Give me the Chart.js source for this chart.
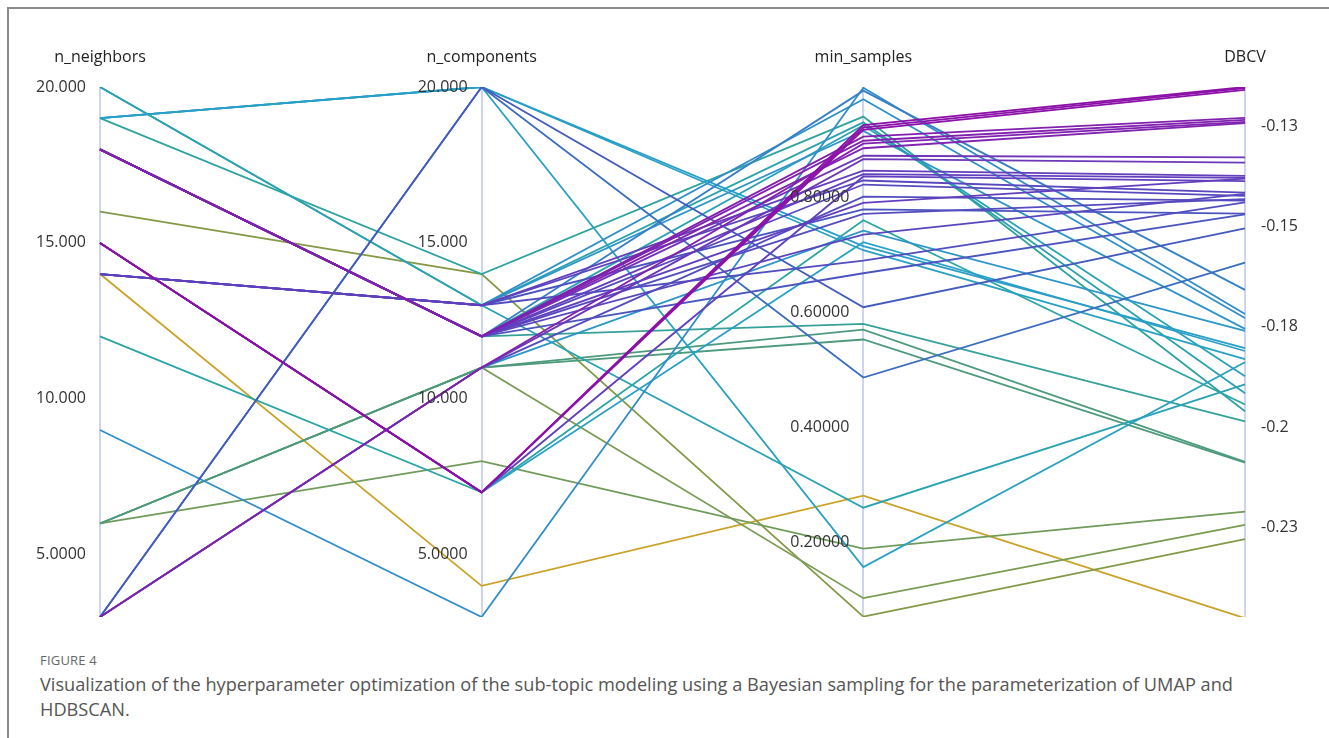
<!DOCTYPE html>
<html>
<head>
<meta charset="utf-8">
<title>Hyperparameter optimization – parallel coordinates</title>
<script src="https://cdn.jsdelivr.net/npm/chart.js@4.4.1/dist/chart.umd.min.js"></script>
<style>
  html, body { margin: 0; padding: 0; background: #ffffff; }
  body { width: 1329px; height: 738px; position: relative; overflow: hidden; font-family: "Open Sans", "Noto Sans", sans-serif; }
  #frame { position: absolute; left: 7px; top: 7px; right: -4px; bottom: -4px; border-top: 2px solid #8c8c8c; border-left: 2px solid #8c8c8c; }
  #wrap { position: absolute; left: 0; top: 0; width: 1329px; height: 640px; }
  #figlabel { position: absolute; left: 40px; top: 651px; font-size: 13px; color: #666666; letter-spacing: 0.2px; white-space: nowrap; }
  #caption { position: absolute; left: 40px; top: 672px; font-size: 17.5px; line-height: 25px; color: #555555; white-space: nowrap; }
</style>
</head>
<body>
<div id="frame"></div>
<div id="wrap"><canvas id="chart" width="1329" height="640"></canvas></div>
<div id="figlabel">FIGURE 4</div>
<div id="caption"><span id="capLine1">Visualization of the hyperparameter optimization of the sub-topic modeling using a Bayesian sampling for the parameterization of UMAP and</span><br><span>HDBSCAN.</span></div>
<script>
// Axis names (one vertical axis per hyperparameter / score)
const axisNames = ['n_neighbors', 'n_components', 'min_samples', 'DBCV'];

// Value range covered by each vertical axis
const axisMin = [3, 3, 0.0713, -0.2472];
const axisMax = [20, 20, 0.9913, -0.1153];

// Tick values and their printed labels, per axis
const nnTicks = [20, 15, 10, 5];
const nnTickLabels = ['20.000', '15.000', '10.000', '5.0000'];
const ncTicks = [20, 15, 10, 5];
const ncTickLabels = ['20.000', '15.000', '10.000', '5.0000'];
const msTicks = [0.8, 0.6, 0.4, 0.2];
const msTickLabels = ['0.80000', '0.60000', '0.40000', '0.20000'];
const dbTicks = [-0.125, -0.15, -0.175, -0.2, -0.225];
const dbTickLabels = ['-0.13', '-0.15', '-0.18', '-0.2', '-0.23'];

// One entry per optimization trial
const nNeighbors  = [15, 15, 15, 18, 18, 3, 18, 18, 3, 14, 18, 15, 14, 18, 3, 18, 14, 18, 18, 14, 18, 3, 3, 18, 9, 14, 14, 18, 20, 19, 19, 19, 19, 20, 12, 18, 6, 6, 6, 6, 16, 14, 15, 3];
const nComponents = [7, 7, 7, 12, 12, 11, 12, 12, 11, 13, 12, 7, 13, 12, 11, 12, 13, 12, 12, 13, 12, 20, 20, 12, 3, 13, 13, 12, 13, 14, 20, 20, 20, 13, 7, 12, 11, 11, 8, 11, 14, 4, 7, 11];
const minSamples  = [0.925, 0.921, 0.917, 0.905, 0.898, 0.893, 0.885, 0.872, 0.866, 0.846, 0.840, 0.836, 0.829, 0.822, 0.801, 0.790, 0.779, 0.771, 0.735, 0.690, 0.668, 0.609, 0.487, 0.985, 0.990, 0.970, 0.915, 0.925, 0.930, 0.940, 0.715, 0.708, 0.158, 0.261, 0.760, 0.580, 0.570, 0.553, 0.190, 0.104, 0.072, 0.282, 0.722, 0.742];
const dbcv        = [-0.1153, -0.1156, -0.1160, -0.1230, -0.1235, -0.1240, -0.1243, -0.1328, -0.1341, -0.1374, -0.1379, -0.1387, -0.1416, -0.1424, -0.1436, -0.1381, -0.1468, -0.1432, -0.1419, -0.1440, -0.1470, -0.1505, -0.1590, -0.1658, -0.1718, -0.1728, -0.1755, -0.1873, -0.1915, -0.1960, -0.1803, -0.1830, -0.1838, -0.1893, -0.1943, -0.1985, -0.2086, -0.2088, -0.2210, -0.2243, -0.2278, -0.2475, -0.1810, -0.1760];

// Colour ramp along the DBCV range (low = gold, high = purple)
const colorStops = [
  [0.00, '#c9a227'], [0.12, '#8e9a3e'], [0.20, '#6f9b5c'], [0.30, '#4a9a80'],
  [0.40, '#2ba4a4'], [0.50, '#28a0c8'], [0.60, '#3486c8'], [0.70, '#3e62bb'],
  [0.75, '#4658bf'], [0.82, '#6040be'], [0.90, '#7a2cb2'], [1.00, '#8c10a8']
];

function hexToRgb(h) {
  return [parseInt(h.slice(1, 3), 16), parseInt(h.slice(3, 5), 16), parseInt(h.slice(5, 7), 16)];
}
function rampColor(t) {
  t = Math.max(0, Math.min(1, t));
  for (let i = 1; i < colorStops.length; i++) {
    const [t1, c1] = colorStops[i];
    const [t0, c0] = colorStops[i - 1];
    if (t <= t1) {
      const f = (t - t0) / (t1 - t0);
      const a = hexToRgb(c0), b = hexToRgb(c1);
      const c = a.map((v, k) => Math.round(v + (b[k] - v) * f));
      return `rgb(${c[0]},${c[1]},${c[2]})`;
    }
  }
  return colorStops[colorStops.length - 1][1];
}

// Each trial becomes one polyline; values are expressed as fractions of their axis range
const order = dbcv.map((_, i) => i).sort((a, b) => dbcv[b] - dbcv[a]);
const datasets = order.map(i => {
  const raw = [nNeighbors[i], nComponents[i], minSamples[i], dbcv[i]];
  const t = (dbcv[i] - axisMin[3]) / (axisMax[3] - axisMin[3]);
  return {
    data: raw.map((v, k) => (v - axisMin[k]) / (axisMax[k] - axisMin[k])),
    borderColor: rampColor(t),
    borderWidth: 1.8,
    pointRadius: 0,
    tension: 0,
    fill: false,
    yAxisID: 'y'
  };
});

const axisIds = ['yNN', 'yNC', 'yMS', 'yDB'];
const axisTicks = [nnTicks, ncTicks, msTicks, dbTicks];
const axisTickLabels = [nnTickLabels, ncTickLabels, msTickLabels, dbTickLabels];

// Prints each axis' tick labels next to its vertical line
const axisLabelPlugin = {
  id: 'axisLabels',
  afterDatasetsDraw(chart) {
    const ctx = chart.ctx;
    const xScale = chart.scales.x;
    ctx.save();
    ctx.font = '16px "Open Sans", "Noto Sans", sans-serif';
    ctx.fillStyle = '#333333';
    ctx.textBaseline = 'middle';
    axisIds.forEach((id, k) => {
      const scale = chart.scales[id];
      const ax = xScale.getPixelForValue(k);
      const last = k === axisIds.length - 1;
      ctx.textAlign = last ? 'left' : 'right';
      axisTicks[k].forEach((v, j) => {
        const py = scale.getPixelForValue(v);
        ctx.fillText(axisTickLabels[k][j], last ? ax + 16 : ax - 14, py);
      });
    });
    ctx.restore();
  }
};

const hiddenAxis = (min, max) => ({ type: 'linear', axis: 'y', min, max, display: false });

new Chart(document.getElementById('chart'), {
  type: 'line',
  data: { labels: axisNames, datasets },
  options: {
    responsive: false,
    animation: false,
    devicePixelRatio: 1,
    events: [],
    layout: { padding: { left: 100, right: 84, top: 27.8, bottom: 23 } },
    plugins: { legend: { display: false }, tooltip: { enabled: false }, title: { display: false } },
    scales: {
      x: {
        type: 'category',
        position: 'top',
        offset: false,
        border: { display: false },
        grid: { color: 'rgba(185,198,236,0.75)', lineWidth: 2, drawTicks: false },
        ticks: { color: '#222222', font: { size: 16, family: '"Open Sans", "Noto Sans", sans-serif' }, padding: 20, maxRotation: 0, autoSkip: false }
      },
      y: { type: 'linear', min: 0, max: 1, display: false },
      yNN: hiddenAxis(axisMin[0], axisMax[0]),
      yNC: hiddenAxis(axisMin[1], axisMax[1]),
      yMS: hiddenAxis(axisMin[2], axisMax[2]),
      yDB: hiddenAxis(axisMin[3], axisMax[3])
    }
  },
  plugins: [axisLabelPlugin]
});

// Stretch the caption's first line to the caption column width
(function fitCaption() {
  const line = document.getElementById('capLine1');
  const cap = document.getElementById('caption');
  const target = 1193;
  const w = line.getBoundingClientRect().width;
  if (w > 0) {
    const size = 17.5 * target / w;
    cap.style.fontSize = size.toFixed(2) + 'px';
  }
})();
</script>
</body>
</html>
